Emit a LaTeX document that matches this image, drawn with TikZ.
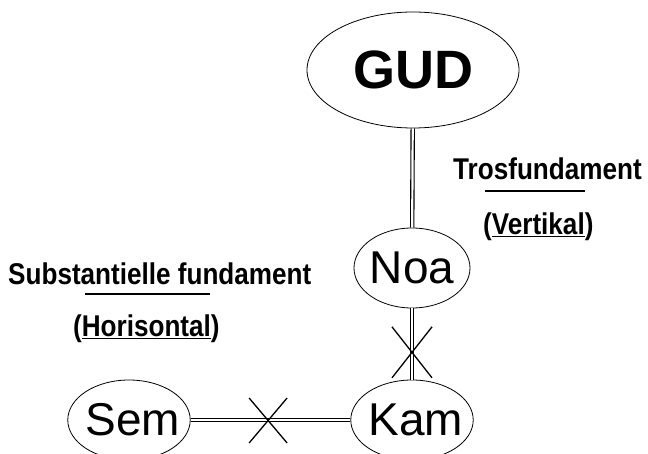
\documentclass[tikz,border=0pt]{standalone}
\usepackage{fontspec}
\setmainfont{Liberation Sans}
\usetikzlibrary{calc,shapes.geometric}
\newcommand\lblsq[1]{\scalebox{0.87}[1]{#1}}

\begin{document}
\begin{tikzpicture}[x=1pt,y=-1pt,
  ov/.style={draw,ellipse,line width=0.8pt,inner xsep=-8pt,inner ysep=0pt,minimum width=118pt,minimum height=80pt,
  font=\fontsize{46}{50}\selectfont},
  bond/.style={double,double distance=2.2pt,line width=1.1pt},
  cross/.style={line width=1.3pt},
  lbl/.style={anchor=base west,inner sep=0pt,font=\bfseries\fontsize{30}{32}\selectfont}]
\useasboundingbox (0,0) rectangle (648,454);
% persons
\node[ov,minimum width=212pt,minimum height=116pt,font=\bfseries\fontsize{54}{58}\selectfont] (gud) at (413,70) {GUD};
\node[ov,minimum width=116pt] (noa) at (412,268) {Noa};
\node[ov] (kam) at (412,420) {\hspace*{8pt}Kam};\node[ov] (sem) at (129,420) {\hspace*{8pt}Sem};
% bonds
\draw[bond] (gud) -- (noa);\draw[bond] (noa) -- (kam);\draw[bond] (sem) -- (kam);
\path (noa.south) -- (kam.north) coordinate[pos=0.61] (xv);
\path (sem.east) -- (kam.west) coordinate[pos=0.485] (xh);
\draw[cross] ($(xv)+(-20,-25)$) -- ($(xv)+(20,26)$);\draw[cross] ($(xv)+(20,-25)$) -- ($(xv)+(-20,26)$);
\draw[cross] ($(xh)+(-19,-22)$) -- ($(xh)+(19,23)$);\draw[cross] ($(xh)+(19,-22)$) -- ($(xh)+(-19,23)$);
% labels
\node[lbl] (tros) at (453,180) {\lblsq{Trosfundament}};
\node[lbl] (vert) at (483,235) {\lblsq{(\underline{Vertikal})}};
\draw[line width=1.2pt] (485,191) -- (585,191);
\node[lbl] (subst) at (8,285) {\lblsq{Substantielle fundament}};
\node[lbl] (horis) at (73,337) {\lblsq{(\underline{Horisontal})}};
\draw[line width=1.2pt] (85,294) -- (210,294);
\end{tikzpicture}
\end{document}
